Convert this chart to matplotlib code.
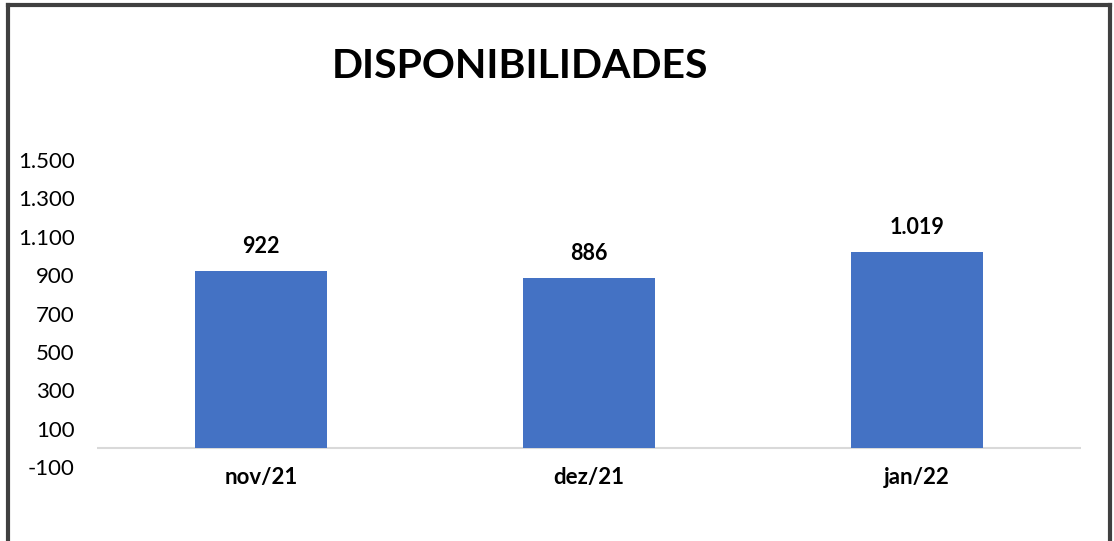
import matplotlib
matplotlib.use("Agg")
import matplotlib.pyplot as plt
from matplotlib.lines import Line2D
from matplotlib.ticker import FixedLocator, FuncFormatter

categories = ["nov/21", "dez/21", "jan/22"]
values = [922, 886, 1019]
value_labels = ["922", "886", "1.019"]
yticks = [-100, 100, 300, 500, 700, 900, 1100, 1300, 1500]
title = "DISPONIBILIDADES"

W, H = 1114, 541
fig = plt.figure(figsize=(W / 100, H / 100), dpi=100)
fig.patch.set_facecolor("white")

FONT = ["Lato", "DejaVu Sans"]

left, right = 97 / W, 1081 / W
bottom, top = (H - 467) / H, (H - 160) / H
ax = fig.add_axes([left, bottom, right - left, top - bottom])

x = list(range(len(categories)))
ax.bar(x, values, width=0.4, color="#4472C4", zorder=2)
ax.set_xlim(-0.5, len(categories) - 0.5)
ax.set_ylim(-100, 1500)

for s in ax.spines.values():
    s.set_visible(False)
ax.axhline(0, color="#D9D9D9", linewidth=1.5, zorder=1)

ax.yaxis.set_major_locator(FixedLocator(yticks))
ax.yaxis.set_major_formatter(FuncFormatter(lambda v, p: f"{int(v):,}".replace(",", ".")))
ax.tick_params(axis="y", length=0, pad=16, labelsize=16)
for t in ax.get_yticklabels():
    t.set_family(FONT)

ax.set_xticks([])
for xi, c in zip(x, categories):
    ax.text(xi, -100, c, ha="center", va="top", fontsize=16, fontweight="bold",
            family=FONT, transform=ax.transData)

for xi, v, lab in zip(x, values, value_labels):
    ax.annotate(lab, (xi, v), xytext=(0, 10), textcoords="offset points",
                ha="center", va="bottom", fontsize=15.5, fontweight="bold", family=FONT)

fig.text(520 / W, 1 - 66 / H, title, ha="center", va="center", fontsize=29.5,
         fontweight="bold", family=FONT)

# outer border
bc = "#404040"
lw = 3
fig.add_artist(Line2D([8 / W, 8 / W], [0, 1 - 5 / H], transform=fig.transFigure, color=bc, lw=lw))
fig.add_artist(Line2D([8 / W, 1110 / W], [1 - 5 / H, 1 - 5 / H], transform=fig.transFigure, color=bc, lw=lw))
fig.add_artist(Line2D([1110 / W, 1110 / W], [0, 1 - 5 / H], transform=fig.transFigure, color=bc, lw=lw))

fig.savefig("out.png", dpi=100, facecolor="white")
